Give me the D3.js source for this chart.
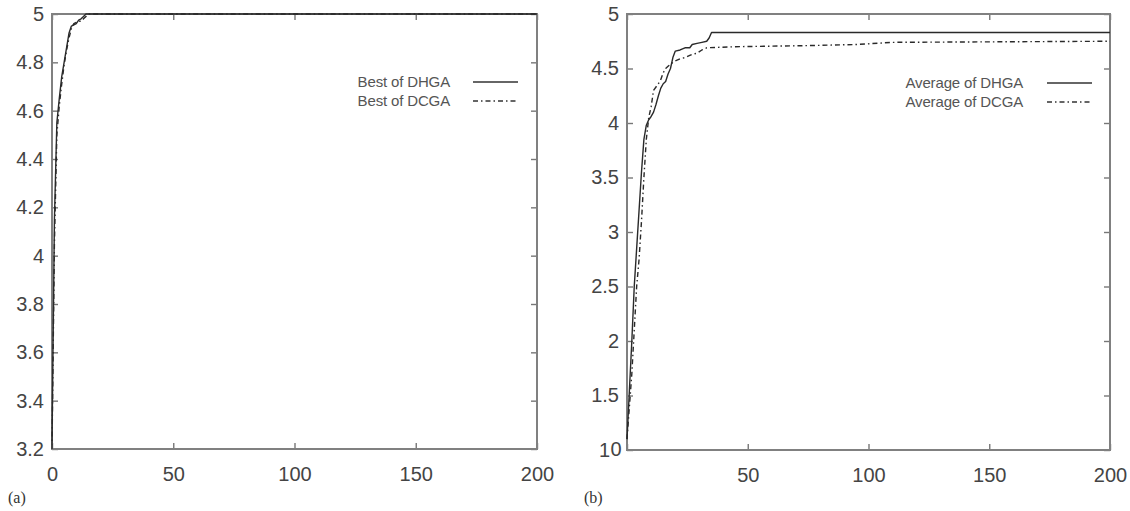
<!DOCTYPE html>
<html>
<head>
<meta charset="utf-8">
<script src="https://cdn.jsdelivr.net/npm/d3@7"></script>
<style>
  html, body { margin: 0; padding: 0; background: #fff; }
  svg { display: block; }
  .tick text { font-family: "Liberation Sans", Arial, sans-serif; fill: #444; }
</style>
</head>
<body>
<svg id="chart" width="1130" height="511"></svg>
<script>
// Panel (a): best fitness per generation
const genBestDHGA = [0, 1, 2, 3, 4, 5, 6, 7, 8, 9, 10, 11, 12, 13, 14, 15, 200];
const bestDHGA    = [3.22, 4.15, 4.55, 4.65, 4.74, 4.8, 4.86, 4.92, 4.95, 4.955, 4.96, 4.975, 4.98, 4.99, 5.0, 5.0, 5.0];
const genBestDCGA = [0, 1, 2, 3, 4, 5, 6, 7, 8, 9, 10, 11, 12, 13, 14, 15, 200];
const bestDCGA    = [3.2, 4.05, 4.5, 4.62, 4.71, 4.79, 4.85, 4.9, 4.94, 4.96, 4.965, 4.97, 4.97, 4.98, 4.99, 5.0, 5.0];

// Panel (b): average fitness per generation
const genAvgDHGA = [0, 1, 2, 3, 4, 5, 6, 7, 8, 9, 10, 11, 12, 13, 14, 15, 16, 17, 18, 19, 20, 22, 24, 26, 27, 29, 31, 33, 34, 35, 200];
const avgDHGA    = [1.1, 1.55, 2.0, 2.5, 2.85, 3.2, 3.55, 3.85, 3.98, 4.03, 4.06, 4.1, 4.17, 4.25, 4.32, 4.36, 4.38, 4.45, 4.5, 4.6, 4.66, 4.67, 4.69, 4.69, 4.72, 4.73, 4.74, 4.75, 4.78, 4.83, 4.83];
const genAvgDCGA = [0, 1, 2, 3, 4, 5, 6, 7, 8, 9, 10, 11, 12, 13, 14, 15, 16, 17, 18, 20, 22, 24, 26, 27, 29, 31, 33, 45, 75, 95, 110, 200];
const avgDCGA    = [1.1, 1.4, 1.7, 2.1, 2.5, 2.75, 3.1, 3.5, 3.85, 4.05, 4.15, 4.3, 4.33, 4.36, 4.4, 4.46, 4.5, 4.52, 4.54, 4.57, 4.59, 4.6, 4.62, 4.63, 4.64, 4.67, 4.69, 4.70, 4.71, 4.72, 4.74, 4.75];

// Tick values
const xTicks  = [0, 50, 100, 150, 200];
const yTicksA = [3.2, 3.4, 3.6, 3.8, 4.0, 4.2, 4.4, 4.6, 4.8, 5.0];
const yTicksB = [1, 1.5, 2, 2.5, 3, 3.5, 4, 4.5, 5];

// Legend labels and panel captions
const legendA = ["Best of DHGA", "Best of DCGA"];
const legendB = ["Average of DHGA", "Average of DCGA"];
const captions = ["(a)", "(b)"];

const svg = d3.select("#chart");
const fmt = d => String(+d.toFixed(1));

function panel(cfg) {
  const x = d3.scaleLinear().domain([0, 200]).range([cfg.left, cfg.right]);
  const y = d3.scaleLinear().domain(cfg.yDomain).range([cfg.bottom, cfg.top]);
  const g = svg.append("g");
  const tick = 6;

  // bottom axis with labels
  const bx = g.append("g").attr("transform", `translate(0,${cfg.bottom})`)
    .call(d3.axisBottom(x).tickValues(xTicks).tickSize(-tick).tickPadding(tick + 12).tickFormat(fmt));
  bx.selectAll("text").style("font-size", "20px");
  // left axis with labels
  const ly = g.append("g").attr("transform", `translate(${cfg.left},0)`)
    .call(d3.axisLeft(y).tickValues(cfg.yTicks).tickSize(-tick).tickPadding(8).tickFormat(fmt));
  ly.selectAll("text").style("font-size", "20px");
  // mirrored top / right ticks
  g.append("g").attr("transform", `translate(0,${cfg.top})`)
    .call(d3.axisTop(x).tickValues(xTicks).tickSize(-tick).tickFormat(""));
  g.append("g").attr("transform", `translate(${cfg.right},0)`)
    .call(d3.axisRight(y).tickValues(cfg.yTicks).tickSize(-tick).tickFormat(""));

  g.selectAll(".domain").remove();
  g.selectAll(".tick line").attr("stroke", "#777").attr("stroke-width", 1.4);

  if (cfg.shiftZero) cfg.shiftZero(bx, ly);

  // frame
  g.append("rect")
    .attr("x", cfg.left).attr("y", cfg.top)
    .attr("width", cfg.right - cfg.left).attr("height", cfg.bottom - cfg.top)
    .attr("fill", "none").attr("stroke", "#808080").attr("stroke-width", 2);

  const line = (gx) => d3.line().x((d, i) => x(gx[i])).y(d => y(d));

  cfg.series.forEach(s => {
    g.append("path")
      .datum(s.values)
      .attr("d", line(s.gens))
      .attr("fill", "none")
      .attr("stroke", "#2a2a2a")
      .attr("stroke-width", 1.4)
      .attr("stroke-linejoin", "round")
      .attr("stroke-dasharray", s.dash || null);
  });

  // legend
  const lg = g.append("g");
  cfg.series.forEach((s, i) => {
    const ly0 = cfg.legendY + i * 19;
    lg.append("text")
      .attr("x", cfg.legendTextX).attr("y", ly0)
      .attr("dy", "0.35em")
      .attr("text-anchor", "end")
      .style("font-family", "'Liberation Sans', Arial, sans-serif")
      .style("font-size", "15px")
      .style("letter-spacing", "-0.15px")
      .attr("fill", "#555")
      .text(s.label);
    lg.append("line")
      .attr("x1", cfg.legendLineX).attr("x2", cfg.legendLineX + 45)
      .attr("y1", ly0).attr("y2", ly0)
      .attr("stroke", "#333").attr("stroke-width", 1.3)
      .attr("stroke-dasharray", s.dash || null);
  });

  svg.append("text")
    .attr("x", cfg.captionX).attr("y", 503)
    .style("font-family", "'Liberation Serif', 'Times New Roman', serif")
    .style("font-size", "16px")
    .attr("fill", "#333")
    .text(cfg.caption);
}

const dashDot = "5,3,1.5,3";

panel({
  left: 52, right: 537, top: 14, bottom: 449,
  yDomain: [3.2, 5], yTicks: yTicksA,
  series: [
    { gens: genBestDHGA, values: bestDHGA, label: legendA[0] },
    { gens: genBestDCGA, values: bestDCGA, label: legendA[1], dash: dashDot }
  ],
  legendY: 82, legendTextX: 450, legendLineX: 473,
  caption: captions[0], captionX: 8
});

panel({
  left: 627, right: 1110, top: 14, bottom: 450,
  yDomain: [1, 5], yTicks: yTicksB,
  series: [
    { gens: genAvgDHGA, values: avgDHGA, label: legendB[0] },
    { gens: genAvgDCGA, values: avgDCGA, label: legendB[1], dash: dashDot }
  ],
  legendY: 83, legendTextX: 1023, legendLineX: 1047,
  caption: captions[1], captionX: 584,
  // the origin labels "1" and "0" sit side by side, left of the corner
  shiftZero: (bx, ly) => {
    bx.selectAll(".tick").filter(d => d === 0).select("text")
      .attr("text-anchor", "start").attr("x", -17).attr("y", 0).attr("dy", "0.32em");
    ly.selectAll(".tick").filter(d => d === 1).select("text")
      .attr("x", -17);
  }
});
</script>
</body>
</html>
